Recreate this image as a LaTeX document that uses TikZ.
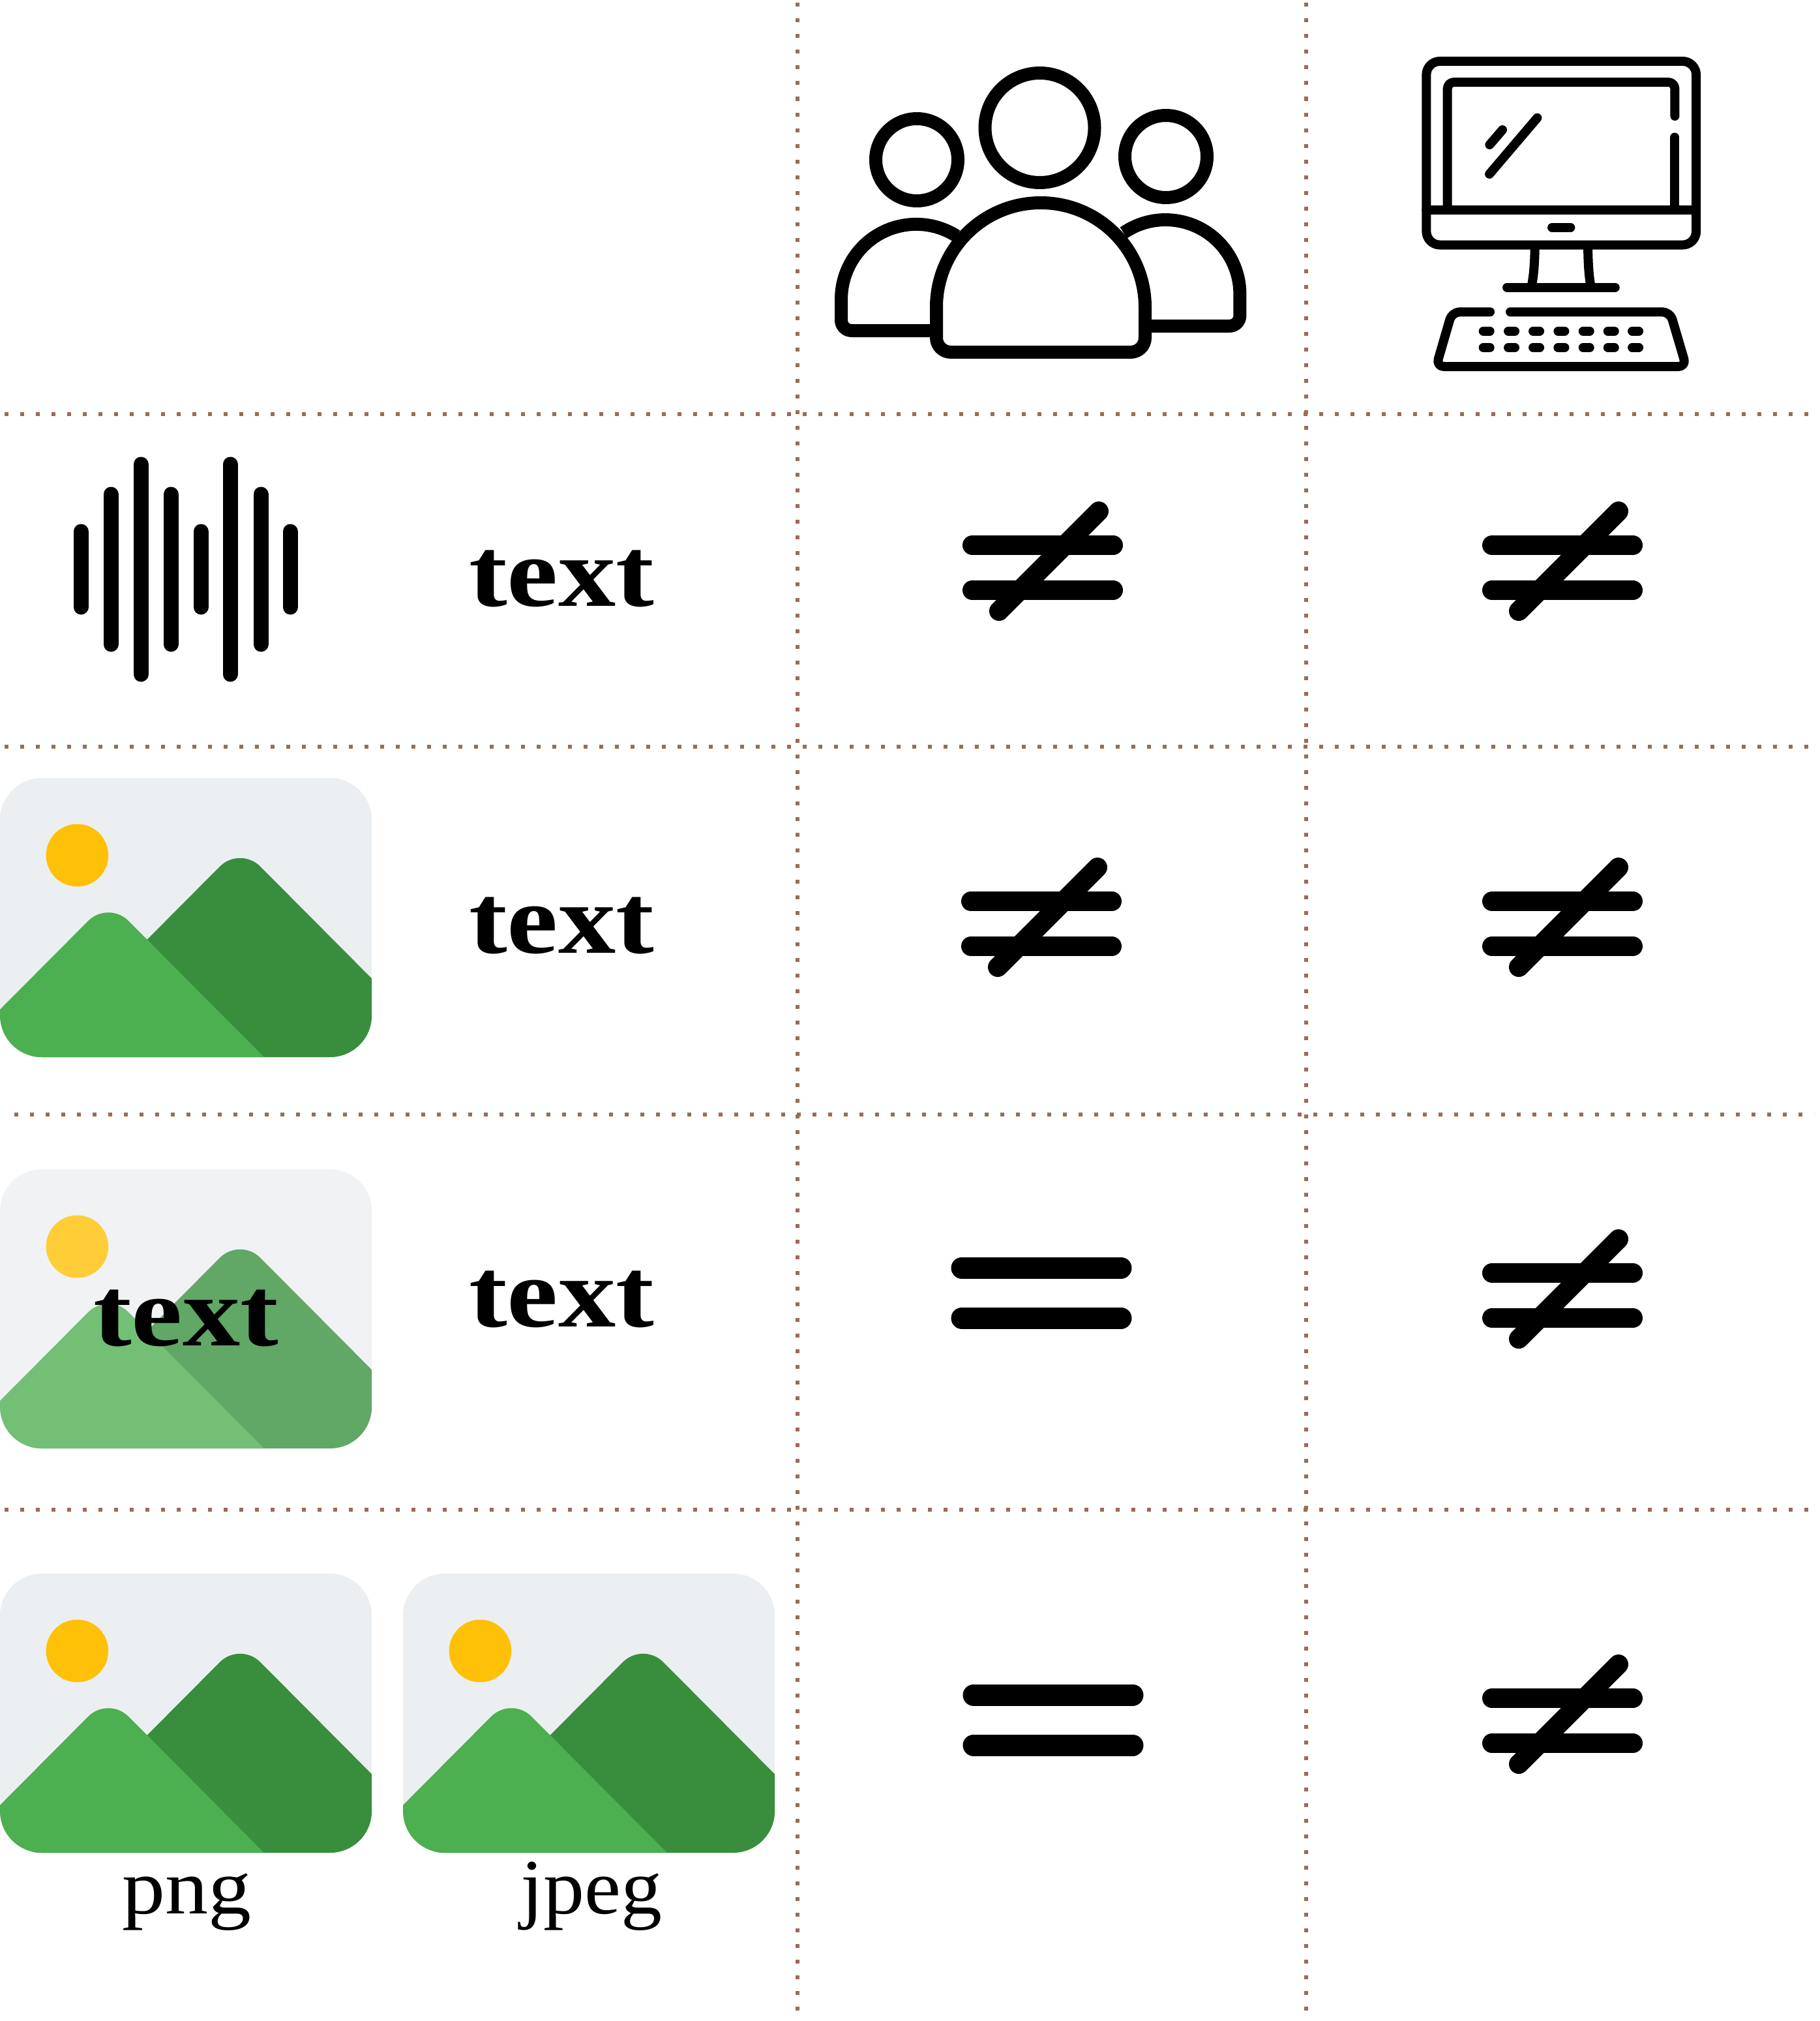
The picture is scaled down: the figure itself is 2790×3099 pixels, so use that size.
\documentclass[tikz,border=0pt]{standalone}
\usepackage{fontspec}
\setmainfont{Liberation Serif}
\definecolor{dotc}{HTML}{996C54}
\definecolor{sky}{HTML}{ECEFF1}\definecolor{sunc}{HTML}{FFC107}\definecolor{front}{HTML}{4CAF50}\definecolor{back}{HTML}{388E3C}
\definecolor{skyf}{HTML}{F0F2F4}\definecolor{sunf}{HTML}{FFCD38}\definecolor{frontf}{HTML}{72BF75}\definecolor{backf}{HTML}{61A766}
\tikzset{
  gridline/.style={draw=dotc,line width=3pt,dash pattern=on 3pt off 9pt},
  icon/.style={line width=10pt,line cap=butt,line join=round},
  mon/.style={line width=7pt,line cap=round,line join=round},
  bar/.style={line width=11.5pt,line cap=round},
  sym/.style={line width=15pt,line cap=round},
  eqsym/.style={line width=16.5pt,line cap=round},
  bigword/.style={font=\bfseries\fontsize{76}{76}\selectfont,anchor=base,inner sep=0pt},
  lab/.style={font=\fontsize{60}{60}\selectfont,anchor=base,inner sep=0pt}
}
\newcommand{\imgicon}[6]{%
  \begin{scope}[shift={(#1,#2)},x=0.4975pt]
    \begin{scope}
      \clip[rounded corners=32pt] (0,0) rectangle (573,428);
      \fill[#3] (0,0) rectangle (573,428);
      \fill[#5,rounded corners=22pt] (0,474.5) -- (370,104.5) -- (800,534.5) -- (0,534.5) -- cycle;
      \fill[#6,rounded corners=22pt] (-200,555) -- (167,188) -- (534,555) -- cycle;
      \fill[#4] (119,118.5) circle[radius=48];
    \end{scope}
  \end{scope}}
\newcommand{\neqsym}[2]{%
  \begin{scope}[shift={(#1,#2)}]
    \draw[sym] (15,0) -- (231,0);
    \draw[sym] (15,69) -- (231,69);
    \draw[sym] (56,101) -- (209,-52);
  \end{scope}}
\newcommand{\eqsymb}[2]{%
  \begin{scope}[shift={(#1,#2)}]
    \draw[eqsym] (17,0) -- (261,0);
    \draw[eqsym] (17,77) -- (261,77);
  \end{scope}}
\begin{document}
\begin{tikzpicture}[x=0.5pt,y=-0.5pt]
\useasboundingbox (0,0) rectangle (2790,3099);
\fill[white] (0,0) rectangle (2790,3099);
% grid
\draw[gridline] (1222.5,4.5) -- (1222.5,3099);
\draw[gridline] (2003,4.5) -- (2003,3099);
\draw[gridline] (7,634.5) -- (2790,634.5);
\draw[gridline] (7,1145) -- (2790,1145);
\draw[gridline] (22,1709) -- (2782,1709);
\draw[gridline] (7,2314.5) -- (2790,2314.5);
% people
\draw[icon] (1594.5,196) circle[radius=84];
\draw[icon] (1406,245) circle[radius=63];
\draw[icon] (1788,240) circle[radius=63];
\draw[icon] (1467,362) arc[start angle=302.6,end angle=180,radius=115] -- (1290,491) arc[start angle=180,end angle=90,radius=16] -- (1436,507);
\draw[icon] (1723,357) arc[start angle=235.6,end angle=360,radius=114] -- (1901.4,484) arc[start angle=0,end angle=90,radius=16] -- (1758,500);
\draw[icon] (1436,471) arc[start angle=180,end angle=360,radius=160] -- (1756,518) arc[start angle=0,end angle=90,radius=22] -- (1458,540) arc[start angle=90,end angle=180,radius=22] -- cycle;
% computer
\begin{scope}[shift={(2160,60)},x=0.1667pt,y=-0.173pt]
  \draw[mon,rounded corners=10.4pt] (82,98) rectangle (1323,912);
  \draw[mon] (82,757) -- (1323,757);
  \draw[mon,rounded corners=5pt] (179,757) -- (179,191) -- (1225,191) -- (1225,341);
  \draw[mon] (1225,435) -- (1225,757);
  \draw[mon] (373,468) -- (432,402);
  \draw[mon] (372,598) -- (592,349);
  \draw[mon] (660,835) -- (745,835);
  \draw[mon] (581,925) .. controls (580,1000) and (575,1050) .. (566,1095);
  \draw[mon] (825,925) .. controls (826,1000) and (830,1050) .. (838,1095);
  \draw[mon] (453,1100) -- (950,1100);
  \draw[mon,rounded corners=6pt] (375,1209) -- (200,1209) -- (127,1451) -- (1277,1451) -- (1203,1209) -- (468,1209);
  \foreach \kx in {359,474,588,703,818,932,1044}{
    \draw[mon] (\kx-15,1294) -- (\kx+15,1294);
    \draw[mon] (\kx-15,1367) -- (\kx+15,1367);
  }
\end{scope}
% waveform
\foreach \bx/\ba/\bb in {124/815/931,170/758/988,216/712/1034,262/758/988,308/815/931,353/712/1034,400/758/988,445/815/931}{
  \draw[bar] (\bx,\ba) -- (\bx,\bb);
}
% words
\node[bigword] (w1) at (861,929) {\scalebox{1.16}[1]{text}};
\node[bigword] (w2) at (861,1461) {\scalebox{1.16}[1]{text}};
\node[bigword] (w3) at (861,2034) {\scalebox{1.16}[1]{text}};
% images
\imgicon{0}{1193}{sky}{sunc}{back}{front}
\imgicon{0}{1793}{skyf}{sunf}{backf}{frontf}
\imgicon{0}{2413}{sky}{sunc}{back}{front}
\imgicon{618}{2413}{sky}{sunc}{back}{front}
\node[bigword] (w4) at (285,2063) {\scalebox{1.16}[1]{text}};
\node[lab] (png) at (286,2934) {\scalebox{1.1}[1]{png}};
\node[lab] (jpeg) at (907,2934) {\scalebox{1.05}[1]{jpeg}};
% symbols
\neqsym{1476}{836}
\neqsym{2273}{836}
\neqsym{1474}{1382}
\neqsym{2273}{1382}
\neqsym{2273}{1952}
\neqsym{2273}{2604}
\eqsymb{1458}{1944}
\eqsymb{1476}{2599}
\end{tikzpicture}
\end{document}
